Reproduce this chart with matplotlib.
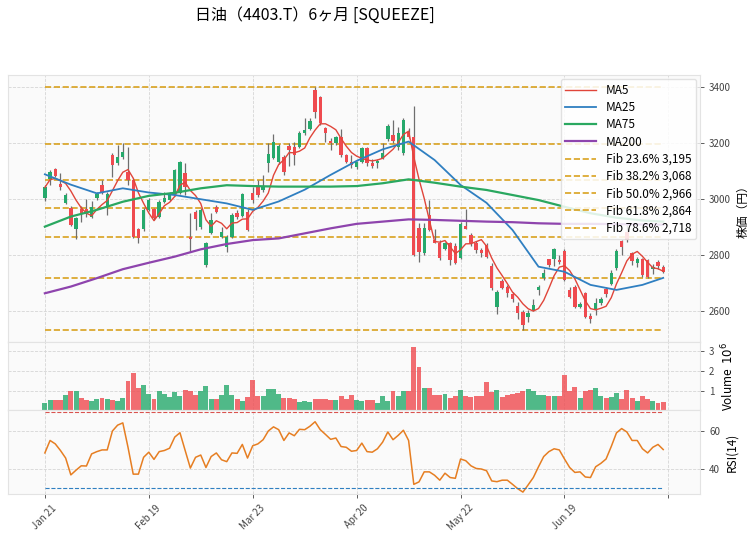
import matplotlib
matplotlib.use('Agg')
import matplotlib.pyplot as plt
import numpy as np
import pandas as pd

plt.rcParams['font.family'] = ['Noto Sans CJK JP', 'DejaVu Sans']

title = "日油（4403.T）6ヶ月 [SQUEEZE]"

# daily OHLC (yen), 120 sessions
opens = [3001, 3069, 3107, 3051, 2986, 2966, 2891, 2962, 2962, 2936,
         3004, 3049, 2972, 3156, 3126, 3148, 3096, 3067, 2890, 2890,
         2960, 2962, 2936, 2989, 2995, 3013, 3019, 3091, 2864, 2952,
         2900, 2762, 2876, 2969, 2864, 2829, 2862, 2950, 2938, 2954,
         3019, 3040, 3030, 3129, 3144, 3132, 3148, 3188, 3186, 3186,
         3233, 3249, 3388, 3362, 3254, 3206, 3198, 3219, 3156, 3132,
         3112, 3132, 3180, 3129, 3128, 3144, 3212, 3228, 3184, 3164,
         3239, 3221, 2894, 2805, 2942, 2852, 2843, 2819, 2841, 2831,
         2787, 2902, 2870, 2843, 2817, 2835, 2760, 2614, 2707, 2685,
         2658, 2615, 2596, 2579, 2602, 2672, 2716, 2783, 2783, 2781,
         2814, 2674, 2686, 2612, 2662, 2581, 2603, 2629, 2676, 2695,
         2751, 2847, 2882, 2805, 2769, 2783, 2781, 2750, 2775, 2757]
highs = [3049, 3102, 3111, 3090, 3019, 2972, 2936, 2974, 2999, 2993,
         3025, 3067, 3025, 3162, 3192, 3200, 3186, 3073, 2896, 2965,
         3001, 2966, 2995, 3025, 3025, 3105, 3135, 3126, 2948, 2958,
         2965, 2845, 2948, 2978, 2900, 2870, 2948, 2960, 3020, 2962,
         3040, 3065, 3085, 3200, 3230, 3195, 3157, 3200, 3203, 3240,
         3288, 3288, 3400, 3365, 3257, 3215, 3225, 3250, 3158, 3155,
         3135, 3185, 3186, 3140, 3140, 3200, 3267, 3281, 3257, 3288,
         3252, 3331, 2912, 2912, 2995, 2890, 2852, 2845, 2846, 2840,
         2915, 2962, 2876, 2847, 2823, 2840, 2769, 2674, 2712, 2690,
         2668, 2630, 2602, 2602, 2640, 2690, 2750, 2786, 2823, 2800,
         2820, 2686, 2692, 2632, 2668, 2590, 2645, 2650, 2686, 2745,
         2820, 2853, 2906, 2810, 2793, 2787, 2785, 2768, 2781, 2763]
lows = [2993, 3049, 3076, 3031, 2981, 2902, 2855, 2918, 2936, 2930,
        2995, 3017, 2940, 3079, 3122, 3140, 3050, 2858, 2840, 2885,
        2955, 2925, 2930, 2985, 2990, 3008, 3015, 3013, 2811, 2888,
        2890, 2755, 2872, 2948, 2858, 2810, 2858, 2928, 2935, 2883,
        2985, 3005, 3025, 3095, 3140, 3125, 3085, 3117, 3120, 3180,
        3228, 3245, 3287, 3263, 3203, 3175, 3190, 3150, 3126, 3110,
        3105, 3128, 3118, 3108, 3110, 3140, 3205, 3200, 3175, 3155,
        3215, 2795, 2775, 2799, 2885, 2840, 2780, 2815, 2763, 2767,
        2783, 2890, 2830, 2805, 2790, 2787, 2674, 2588, 2676, 2650,
        2632, 2570, 2532, 2561, 2598, 2656, 2710, 2755, 2758, 2768,
        2705, 2645, 2608, 2608, 2573, 2555, 2585, 2620, 2650, 2692,
        2745, 2800, 2845, 2763, 2757, 2721, 2715, 2730, 2750, 2733]
closes = [3040, 3096, 3081, 3041, 3013, 2906, 2932, 2944, 2945, 2969,
          3017, 3019, 3017, 3120, 3148, 3168, 3067, 2864, 2858, 2960,
          2995, 2930, 2989, 3001, 3019, 3102, 3130, 3040, 2855, 2928,
          2960, 2840, 2924, 2954, 2882, 2862, 2942, 2933, 3015, 2888,
          2995, 3013, 3045, 3160, 3204, 3188, 3097, 3174, 3156, 3233,
          3245, 3279, 3311, 3269, 3233, 3198, 3219, 3156, 3132, 3120,
          3132, 3180, 3126, 3117, 3136, 3162, 3260, 3207, 3236, 3281,
          3221, 2799, 2811, 2894, 2888, 2843, 2787, 2840, 2781, 2769,
          2910, 2893, 2843, 2817, 2805, 2793, 2680, 2668, 2680, 2662,
          2640, 2590, 2549, 2593, 2620, 2686, 2736, 2763, 2819, 2773,
          2710, 2650, 2614, 2624, 2579, 2569, 2629, 2641, 2660, 2733,
          2814, 2829, 2852, 2779, 2783, 2727, 2721, 2757, 2760, 2739]

# volume in millions of shares
volumes = [0.44, 0.58, 0.58, 0.58, 0.83, 1.04, 1.04, 0.70, 0.58, 0.53,
           0.63, 0.66, 0.61, 0.58, 0.53, 0.66, 1.54, 1.90, 1.17, 1.34,
           0.88, 0.61, 1.04, 0.88, 0.72, 0.97, 0.78, 1.09, 1.04, 0.83,
           1.04, 1.25, 0.61, 0.61, 0.83, 1.34, 0.83, 0.63, 0.53, 0.72,
           1.59, 0.78, 0.78, 1.13, 1.13, 0.88, 0.70, 0.66, 0.61, 0.49,
           0.53, 0.48, 0.61, 0.61, 0.61, 0.58, 0.58, 0.75, 0.63, 0.83,
           0.58, 0.53, 0.58, 0.58, 0.41, 0.75, 0.53, 1.04, 0.78, 1.04,
           1.00, 3.20, 2.19, 1.17, 1.17, 0.83, 0.83, 0.88, 0.66, 0.78,
           1.09, 0.78, 0.72, 0.78, 0.78, 1.48, 0.97, 1.09, 0.72, 0.83,
           0.88, 0.92, 1.04, 1.12, 1.00, 0.83, 0.83, 0.78, 0.78, 0.78,
           1.80, 1.04, 1.20, 0.66, 1.04, 1.09, 1.17, 0.78, 0.66, 0.72,
           0.92, 0.61, 1.09, 0.70, 0.53, 0.75, 0.61, 0.53, 0.44, 0.49]

rsi = [48.5, 55.1, 53.3, 49.8, 45.8, 36.9, 39.4, 41.7, 41.6, 48.0,
       49.2, 50.1, 50.1, 60.1, 63.2, 64.4, 51.5, 37.3, 37.3, 46.2,
       48.9, 45.1, 49.2, 49.8, 51.0, 56.9, 59.2, 49.8, 40.5, 46.2,
       47.4, 40.8, 46.6, 48.5, 44.9, 43.9, 48.5, 48.3, 53.0, 45.8,
       52.3, 53.3, 55.5, 60.1, 62.3, 60.8, 55.1, 59.1, 57.6, 61.0,
       60.8, 62.6, 65.0, 60.8, 58.3, 55.7, 56.4, 51.9, 51.5, 49.4,
       49.8, 53.7, 49.2, 48.9, 50.7, 54.2, 59.6, 55.5, 57.8, 60.5,
       55.1, 31.9, 33.2, 38.5, 38.5, 36.7, 34.1, 37.8, 35.5, 35.1,
       45.3, 44.4, 41.7, 40.3, 40.0, 39.1, 33.7, 33.3, 34.1, 34.1,
       31.9, 29.6, 27.8, 31.6, 35.5, 41.2, 46.6, 49.2, 50.7, 50.1,
       45.3, 40.8, 38.2, 38.5, 35.8, 35.5, 41.2, 43.0, 45.3, 51.9,
       59.1, 61.4, 59.6, 55.1, 55.1, 50.7, 48.5, 51.5, 53.0, 50.3]

# longer moving averages, read every 5 sessions
ma_idx = [0, 5, 10, 15, 20, 25, 30, 35, 40, 45, 50, 55, 60,
          65, 70, 75, 80, 85, 90, 95, 100, 105, 110, 115, 119]
ma25 = [3087, 3050, 3019, 3037, 3022, 3013, 2998, 2983, 2960, 2990, 3032, 3085, 3135,
        3176, 3204, 3138, 3049, 2985, 2888, 2757, 2739, 2692, 2674, 2692, 2717]
ma75 = [2900, 2936, 2960, 2989, 3010, 3021, 3037, 3048, 3045, 3043, 3043, 3043, 3045,
        3055, 3069, 3057, 3043, 3031, 3013, 2995, 2971, 2948, 2932, 2922, 2918]
ma200 = [2662, 2686, 2716, 2748, 2771, 2793, 2819, 2838, 2852, 2858, 2876, 2894, 2910,
         2918, 2926, 2924, 2921, 2918, 2916, 2912, 2910, 2910, 2909, 2908, 2907]

fib_ratios = [0.236, 0.382, 0.5, 0.618, 0.786]

tick_pos = [0, 20, 40, 60, 80, 100, 120]
tick_labels = ['Jan 21', 'Feb 19', 'Mar 23', 'Apr 20', 'May 22', 'Jun 19', '']

o = np.array(opens, float)
h = np.array(highs, float)
l = np.array(lows, float)
c = np.array(closes, float)
n = len(c)
x = np.arange(n)
up = c >= o

up_col = '#26a96c'
dn_col = '#ef4a4f'
cols = np.where(up, up_col, dn_col)

fig = plt.figure(figsize=(7.52, 5.39), dpi=100)
ax = fig.add_axes([0.0106, 0.3655, 0.9204, 0.4955])
axv = fig.add_axes([0.0106, 0.2393, 0.9204, 0.1262], sharex=ax)
axr = fig.add_axes([0.0106, 0.0835, 0.9204, 0.1558], sharex=ax)

for a in (ax, axv, axr):
    a.set_facecolor('#fafafa')
    a.grid(True, ls='--', color='#d6d6d6', lw=0.6)
    a.set_axisbelow(True)
    a.yaxis.tick_right()
    a.yaxis.set_label_position('right')
    for s in a.spines.values():
        s.set_color('#e3e3e3')
    a.tick_params(axis='y', labelsize=7, colors='#444444', length=3, width=0.6)

# candles
ax.vlines(x, l, h, color='#6e6e6e', lw=0.9, zorder=2)
ax.bar(x, np.maximum(np.abs(c - o), 3), bottom=np.minimum(o, c), width=0.65,
       color=cols, zorder=3)

ma5 = pd.Series(c).rolling(5, min_periods=1).mean()
ax.plot(x, ma5, color='#e0453a', lw=1.0, label='MA5', zorder=4)
ax.plot(ma_idx, ma25, color='#2f7fc1', lw=1.3, label='MA25', zorder=4)
ax.plot(ma_idx, ma75, color='#2aa860', lw=1.6, label='MA75', zorder=4)
ax.plot(ma_idx, ma200, color='#8e44ad', lw=1.6, label='MA200', zorder=4)

fib_hi = h.max()
fib_lo = l.min()
fib_col = '#d9a21f'
for lvl in (fib_hi, fib_lo):
    ax.plot([0, n - 1], [lvl, lvl], color=fib_col, ls='--', lw=1.2, zorder=1.5)
for r in fib_ratios:
    lvl = fib_hi - r * (fib_hi - fib_lo)
    ax.plot([0, n - 1], [lvl, lvl], color=fib_col, ls='--', lw=1.2, zorder=1.5,
            label=f'Fib {r*100:.1f}% {lvl:,.0f}')

ax.set_ylim(2488, 3442)
ax.set_yticks([2600, 2800, 3000, 3200, 3400])
ax.set_ylabel('株価（円）', fontsize=8.5)
ax.legend(loc='upper right', fontsize=8.5, framealpha=0.85, borderaxespad=0.35,
          handlelength=2.6, labelspacing=0.36, edgecolor='#dddddd')

# volume
axv.bar(x, volumes, width=0.95, color=cols, alpha=0.8)
axv.set_ylim(0.08, 3.45)
axv.set_yticks([1, 2, 3])
axv.set_ylabel('Volume  $10^{6}$', fontsize=8.5)

# RSI
axr.plot(x, rsi, color='#e67e22', lw=1.1)
axr.plot([0, n - 1], [70, 70], color='#d9534f', ls='--', lw=0.8)
axr.plot([0, n - 1], [30, 30], color='#2f7fc1', ls='--', lw=0.8)
axr.set_ylim(26.8, 71.2)
axr.set_yticks([40, 60])
axr.set_ylabel('RSI(14)', fontsize=8.5)

axr.set_xlim(-7.1, 126.1)
axr.set_xticks(tick_pos)
axr.set_xticklabels(tick_labels, rotation=45, fontsize=7, color='#333333')
axr.tick_params(axis='x', length=3, width=0.6, colors='#444444')
for a in (ax, axv):
    a.tick_params(axis='x', length=0, labelbottom=False)

fig.text(0.419, 0.972, title, ha='center', va='center', fontsize=11.5)

fig.savefig('out.png', dpi=100)
